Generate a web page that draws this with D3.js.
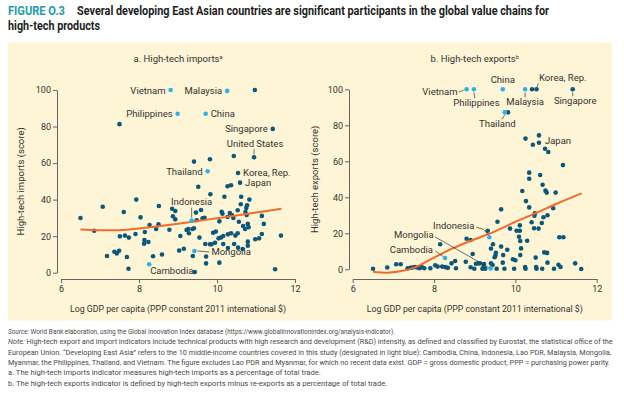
<!DOCTYPE html>
<html><head><meta charset="utf-8">
<script src="https://cdn.jsdelivr.net/npm/d3@7"></script>
<style>
body{margin:0;background:#fff}
text{font-family:Roboto,"Open Sans",sans-serif;fill:#333}
</style>
</head><body>
<svg id="chart" width="624" height="398"></svg>
<script>
// ---------------- DATA ----------------
const xTicks = [6, 8, 10, 12];
const yTicks = [0, 20, 40, 60, 80, 100];

// Panel a: high-tech imports (x = log GDP per capita, y = score)
const importsEastAsia = [
  {name:"Vietnam", x:8.81, y:100},
  {name:"Malaysia", x:10.26, y:99.5},
  {name:"Philippines", x:8.99, y:87},
  {name:"China", x:9.71, y:87},
  {name:"Thailand", x:9.76, y:55.5},
  {name:"Indonesia", x:9.35, y:28.5},
  {name:"Mongolia", x:9.42, y:11.9},
  {name:"Cambodia", x:8.26, y:4.6}
];
const importsNamed = [
  {name:"Singapore", x:11.43, y:78.7},
  {name:"United States", x:10.95, y:63.2},
  {name:"Korea, Rep.", x:10.54, y:54.6},
  {name:"Japan", x:10.59, y:49.3}
];
const importsOther = [
  [10.97,100],[7.5,81.3],[9.41,60.8],[9.82,62.1],[10.43,63.9],[9.52,47],[10.27,47.3],[10.36,47.9],
  [9.83,42.9],[10.19,41.6],[10.62,41.6],[10.83,40],[7.93,40],[10.61,37.5],[10.77,36.9],[10.75,35.4],
  [7.07,36.1],[8.51,36.5],[8.85,35],[8.93,33.8],[7.61,33.2],[10.12,33.4],[10.14,32.3],[10.33,32.7],
  [10.38,31.6],[10.53,34.2],[10.73,33.2],[10.76,31.6],[9.59,34.3],[9.46,32.9],[6.5,29.9],[8.04,30.3],
  [8.87,30.9],[8.93,29.2],[9.48,28.7],[9.63,29.8],[9.68,30.1],[10.06,28.1],[10.27,30.5],[10.42,30],
  [10.56,27.9],[10.67,25.6],[10.79,26.7],[10.81,24.9],[10.72,23.9],[11.15,31.1],[11.2,26.7],[8.27,26.1],
  [8.5,26.5],[8.44,23.9],[8.78,23.5],[6.85,23],[8.15,22.3],[7.91,21.2],[7.51,19.9],[7.64,20.3],
  [7.74,19.2],[8.14,17.9],[8.24,16.8],[8.13,15.9],[9.26,23.9],[9.22,23.4],[9.37,23.9],[9.41,24.3],
  [9.28,21.6],[9.06,20.1],[9.55,19.2],[9.9,21.9],[9.97,22.5],[10.1,19.2],[10.16,20.1],[10.28,21],
  [10.36,21.6],[10.47,20.3],[10.53,21.6],[11.15,21.2],[11.08,18.8],[10.98,18.3],[11.64,20.3],[9.7,15.7],
  [9.82,15.6],[9.86,15.6],[9.95,16.4],[10.04,18.8],[10.16,15.7],[10.44,15.7],[10.28,13.5],[10.54,13.7],
  [10.66,13],[10.79,17],[10.79,14.8],[9.03,12.1],[9.15,13.1],[7.37,11.5],[7.43,10.6],[7.49,12],
  [7.18,9.1],[7.69,8.6],[8.36,9],[8.59,10],[9.38,9.1],[9.72,8.8],[9.72,5.1],[10.06,5.5],
  [7.73,2.2],[9.43,0.4],[11.49,1.9]
];
const importsTrend = [[6.5,23.6],[7,23.2],[7.5,23.3],[8,24.2],[8.5,25.4],[9,26.8],[9.5,28.3],[10,29.8],[10.5,31.3],[11,32.9],[11.65,35]];

// Panel b: high-tech exports
const exportsEastAsia = [
  {name:"Vietnam", x:8.80, y:100},
  {name:"Philippines", x:8.98, y:100},
  {name:"China", x:9.69, y:100},
  {name:"Malaysia", x:10.24, y:100},
  {name:"Thailand", x:9.74, y:87.2},
  {name:"Indonesia", x:9.36, y:17.8},
  {name:"Mongolia", x:9.39, y:0.5},
  {name:"Cambodia", x:8.27, y:6.3}
];
const exportsNamed = [
  {name:"Korea, Rep.", x:10.52, y:100},
  {name:"Singapore", x:11.41, y:100},
  {name:"Japan", x:10.58, y:70.3}
];
const exportsOther = [
  [10.41,100],[9.82,87.2],[10.25,72.6],[10.43,69.2],[10.58,74.4],[10.73,67],[10.81,65.2],[11.17,57.9],
  [10.34,53.7],[10.34,50.3],[10.61,52.4],[10.67,47],[10.74,43.7],[10.77,42.6],[10.99,42.6],[10.17,43.5],
  [10.26,37.9],[10.34,34.4],[9.65,33.3],[10.93,33.9],[10.48,31.1],[10.47,29.8],[10.69,28.9],[10.79,30],
  [10.4,26.1],[10.46,22.8],[10.57,22.6],[10.65,25.7],[9.56,26.4],[9.87,22.6],[10.03,21.4],[10.11,21.4],
  [10.11,24.4],[10.09,18.1],[10.12,15.7],[10.29,15.9],[11.08,17.8],[11.18,17.8],[8.8,17],[8.9,16.3],
  [9.32,21.4],[9.45,13.9],[9.65,12.6],[9.8,10.9],[9.4,11.5],[9.52,9.2],[10.14,11.6],[10.12,7.9],
  [9.7,7.9],[9.51,7.6],[9.49,6.7],[9.94,5.6],[10.0,5.0],[10.5,6.5],[10.71,9.4],[10.78,9.1],
  [10.79,3.7],[11.06,2.5],[11.11,1.3],[11.47,3.3],[11.62,0.2],[8.99,0.3],[9.19,0.3],[9.26,0.3],
  [9.54,0.3],[9.73,0.3],[9.97,0.3],[10.25,0.3],[10.52,0.3],[10.66,0.3],[10.95,0.3],[8.78,4.2],
  [9.03,3.1],[9.13,3.3],[9.23,2.9],[9.4,3.3],[9.44,2.4],[9.22,1.5],[9.69,3.7],[10.24,1.3],
  [10.51,1.3],[6.5,0.3],[6.85,1],[7.07,2.8],[7.18,2.8],[7.35,0.5],[7.42,0.8],[7.47,1],
  [7.52,1.3],[7.58,1],[7.64,0.6],[7.7,1.2],[7.76,0.6],[7.91,0.6],[8.03,2.2],[8.09,1.5],
  [8.15,13.9],[8.2,1.5],[8.28,1.2],[8.34,0.8],[8.43,3.3],[8.52,4.6],[8.54,0.6],[8.95,8.5],
  [8.9,1.1],[9.09,3.3]
];
const exportsTrend = [[6.5,-1.4],[6.85,-1.9],[7.2,-1],[7.5,0.8],[8,6.5],[8.5,12],[9,16.7],[9.5,21.1],[10,26.4],[10.5,31.2],[11,36.3],[11.63,42.2]];

// Texts
const titleFig = "FIGURE O.3";
const titleLines = ["Several developing East Asian countries are significant participants in the global value chains for", "high-tech products"];
const panelTitles = ["a. High-tech imports", "b. High-tech exports"];
const panelSups = ["a", "b"];
const yTitles = ["High-tech imports (score)", "High-tech exports (score)"];
const xTitle = "Log GDP per capita (PPP constant 2011 international $)";
const notes = [
  ["Source:", " World Bank elaboration, using the Global Innovation Index database (https://www.globalinnovationindex.org/analysis-indicator)."],
  ["Note:", " High-tech export and import indicators include technical products with high research and development (R&D) intensity, as defined and classified by Eurostat, the statistical office of the"],
  ["", "European Union. \u201CDeveloping East Asia\u201D refers to the 10 middle-income countries covered in this study (designated in light blue): Cambodia, China, Indonesia, Lao PDR, Malaysia, Mongolia,"],
  ["", "Myanmar, the Philippines, Thailand, and Vietnam. The figure excludes Lao PDR and Myanmar, for which no recent data exist. GDP = gross domestic product; PPP = purchasing power parity."],
  ["", "a. The high-tech imports indicator measures high-tech imports as a percentage of total trade."],
  ["", "b. The high-tech exports indicator is defined by high-tech exports minus re-exports as a percentage of total trade."]
];

// ---------------- LAYOUT / STYLE ----------------
const DARK = "#0a587c", LIGHT = "#2bb3e8", ORANGE = "#f26a2c", AXIS = "#555";
const svg = d3.select("#chart");

svg.append("rect").attr("x", 8).attr("y", 42.5).attr("width", 604).attr("height", 278).attr("fill", "#fdf5d5");

// Title
svg.append("text").attr("x", 8).attr("y", 15).style("font-size", "12px").style("font-weight", "700").style("fill", "#1e9bab")
  .text(titleFig).attr("textLength", 57).attr("lengthAdjust", "spacingAndGlyphs");
svg.append("text").attr("x", 77).attr("y", 15).style("font-size", "12px").style("font-weight", "700").style("fill", "#222")
  .text(titleLines[0]).attr("textLength", 472).attr("lengthAdjust", "spacingAndGlyphs");
svg.append("text").attr("x", 8).attr("y", 29.5).style("font-size", "12px").style("font-weight", "700").style("fill", "#222")
  .text(titleLines[1]).attr("textLength", 92).attr("lengthAdjust", "spacingAndGlyphs");

// Footnotes: shrink font to fit the reference line widths
const noteY = [334, 344.3, 354.6, 364.9, 375.2, 385.5];
const noteW = [387, 604, 603, 602, 339, 383];
notes.forEach((n, i) => {
  const base = 7.6;
  const t = svg.append("text").attr("x", 8).attr("y", noteY[i]).style("font-size", base + "px").style("fill", "#4a4a4a");
  if (n[0]) t.append("tspan").style("font-style", "italic").text(n[0]);
  t.append("tspan").text(n[1]);
  const w = t.node().getComputedTextLength();
  if (w > noteW[i]) t.style("font-size", (base * noteW[i] / w).toFixed(2) + "px");
});

function panel(cfg) {
  const x = d3.scaleLinear().domain([6, 12]).range(cfg.xr);
  const y = d3.scaleLinear().domain([0, 100]).range(cfg.yr);
  const g = svg.append("g");

  // axes
  const ya = g.append("g").attr("transform", `translate(${cfg.yAxisX},0)`)
    .call(d3.axisLeft(y).tickValues(yTicks).tickFormat(d3.format("d")).tickSize(4).tickSizeOuter(0).tickPadding(2));
  const xa = g.append("g").attr("transform", `translate(0,${cfg.xAxisY})`)
    .call(d3.axisBottom(x).tickValues(xTicks).tickFormat(d3.format("d")).tickSize(4).tickSizeOuter(0).tickPadding(3));
  [ya, xa].forEach(a => {
    a.select(".domain").attr("stroke", AXIS).attr("stroke-width", 0.9);
    a.selectAll(".tick line").attr("stroke", AXIS).attr("stroke-width", 0.9);
    a.selectAll("text").style("font-size", "9px").style("fill", "#333").style("font-family", "Roboto, sans-serif");
  });

  // titles
  const pt = g.append("text").attr("x", (cfg.xr[0] + cfg.xr[1]) / 2).attr("y", 62).attr("text-anchor", "middle").style("font-size", "9.5px");
  pt.append("tspan").text(cfg.title);
  pt.append("tspan").attr("dy", -3.5).style("font-size", "5.5px").text(cfg.sup);
  g.append("text").attr("x", (cfg.xr[0] + cfg.xr[1]) / 2).attr("y", 312).attr("text-anchor", "middle")
    .style("font-size", "9.5px").text(xTitle).attr("textLength", 216).attr("lengthAdjust", "spacingAndGlyphs");
  g.append("text").attr("transform", `translate(${cfg.yTitleX},${(y(0) + y(100)) / 2}) rotate(-90)`)
    .attr("text-anchor", "middle").style("font-size", "9.5px").text(cfg.yTitle);

  // dots
  const r = 2.3;
  g.selectAll("circle.o").data(cfg.other).join("circle")
    .attr("cx", d => x(d[0])).attr("cy", d => y(d[1])).attr("r", r).attr("fill", DARK);
  g.selectAll("circle.n").data(cfg.named).join("circle")
    .attr("cx", d => x(d.x)).attr("cy", d => y(d.y)).attr("r", r).attr("fill", DARK);

  // trend
  g.append("path").datum(cfg.trend)
    .attr("d", d3.line().x(d => x(d[0])).y(d => y(d[1])).curve(d3.curveCatmullRom))
    .attr("fill", "none").attr("stroke", ORANGE).attr("stroke-width", 2);

  g.selectAll("circle.e").data(cfg.ea).join("circle")
    .attr("cx", d => x(d.x)).attr("cy", d => y(d.y)).attr("r", r).attr("fill", LIGHT);

  // labels
  const all = cfg.ea.concat(cfg.named);
  all.forEach(d => {
    const L = cfg.labels[d.name];
    if (!L) return;
    const px = x(d.x), py = y(d.y);
    if (L.line) {
      g.append("polyline").attr("points", L.line.map(p => [px + p[0], py + p[1]].join(",")).join(" "))
        .attr("fill", "none").attr("stroke", "#333").attr("stroke-width", 0.7);
    }
    g.append("text").attr("x", px + L.dx).attr("y", py + L.dy).attr("text-anchor", L.a || "start")
      .style("font-size", "9.5px").text(d.name);
  });
}

panel({
  xr: [61, 295], yr: [272.7, 90], yAxisX: 57, xAxisY: 279, yTitleX: 24,
  title: panelTitles[0], sup: panelSups[0], yTitle: yTitles[0],
  other: importsOther, named: importsNamed, ea: importsEastAsia, trend: importsTrend,
  labels: {
    "Vietnam": {dx: -5, dy: 3.5, a: "end"},
    "Malaysia": {dx: -5, dy: 3.5, a: "end"},
    "Philippines": {dx: -5, dy: 3.5, a: "end"},
    "China": {dx: 5, dy: 3.5},
    "Singapore": {dx: -5, dy: 3.5, a: "end"},
    "United States": {dx: 1, dy: -10.5, a: "middle", line: [[0, -8], [0, -3]]},
    "Thailand": {dx: -5, dy: 3.5, a: "end"},
    "Korea, Rep.": {dx: 5, dy: 3.5},
    "Japan": {dx: 5, dy: 3.5},
    "Indonesia": {dx: 0, dy: -16, a: "middle", line: [[0, -13], [0, -3]]},
    "Mongolia": {dx: 17, dy: 4, line: [[3, 0], [15, 1]]},
    "Cambodia": {dx: 1, dy: 10}
  }
});

panel({
  xr: [352.7, 596.7], yr: [269.3, 89.3], yAxisX: 349, xAxisY: 279, yTitleX: 318,
  title: panelTitles[1], sup: panelSups[1], yTitle: yTitles[1],
  other: exportsOther, named: exportsNamed, ea: exportsEastAsia, trend: exportsTrend,
  labels: {
    "Vietnam": {dx: -9, dy: 6, a: "end", line: [[-8, 3], [-3, 0.8]]},
    "Philippines": {dx: 2.5, dy: 16.7, a: "middle", line: [[1, 9], [0, 3]]},
    "China": {dx: 0, dy: -6, a: "middle"},
    "Malaysia": {dx: 0, dy: 16, a: "middle", line: [[0, 3], [0, 8]]},
    "Korea, Rep.": {dx: 2.5, dy: -8, line: [[0.5, -2.5], [2, -6]]},
    "Singapore": {dx: 2.5, dy: 14.7, a: "middle", line: [[0, 3], [0, 7]]},
    "Thailand": {dx: -7.5, dy: 15, a: "middle", line: [[-3, 7], [0, 2.5]]},
    "Japan": {dx: 6, dy: 1.5},
    "Indonesia": {dx: -15, dy: -8.6, a: "end", line: [[-13, -10], [-6, -8], [-1, -2.5]]},
    "Mongolia": {dx: -57, dy: -30, a: "end", line: [[-55.5, -31.5], [-2, -1]]},
    "Cambodia": {dx: -12, dy: -4.8, a: "end", line: [[-9.5, -7], [-2, -1.5]]}
  }
});
</script>
</body></html>
